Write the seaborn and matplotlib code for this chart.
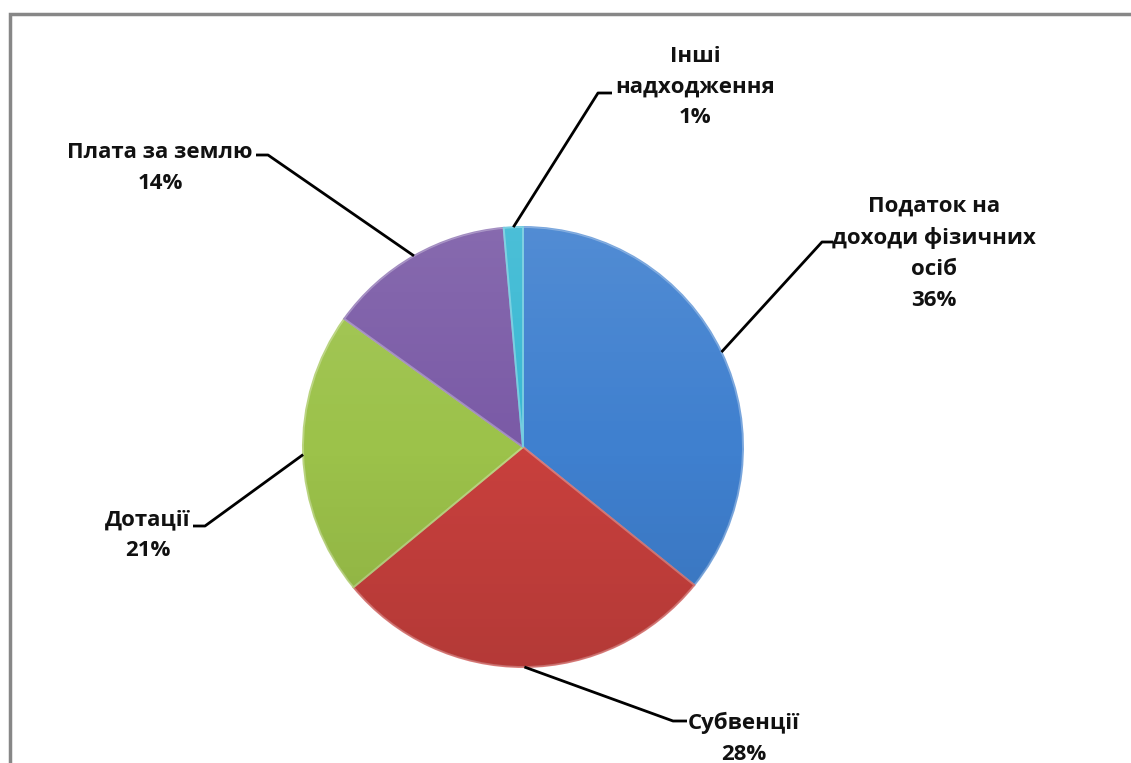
import numpy as np
import matplotlib
matplotlib.use("Agg")
import matplotlib.pyplot as plt
import seaborn as sns
from matplotlib.patches import Rectangle, Circle
from matplotlib.colors import to_rgb

# ---- data ----
categories = ["Податок на\nдоходи фізичних\nосіб", "Субвенції", "Дотації",
              "Плата за землю", "Інші\nнадходження"]
values = [35.8, 28.2, 20.9, 13.7, 1.4]
colors_hex = ["#3F80CF", "#C8403D", "#9CC24A", "#7A5AA6", "#38B8D3"]

# ---- layout (pixel coordinates, y measured from top) ----
W, H = 1131, 763
PIE_C = (523, 447)
PIE_R = 220
label_centers = [(934, 253), (744, 738), (148, 535), (160, 168), (695, 87)]
elbows = [(822, 242), (673, 721), (205, 526), (268, 155), (598, 93)]
ends = [(833, 242), (687, 721), (193, 526), (256, 155), (612, 93)]

sns.set_theme(style="white")
plt.rcParams["font.family"] = ["Open Sans", "DejaVu Sans"]

def Y(y):
    return H - y

fig = plt.figure(figsize=(W / 100, H / 100), dpi=100)
ax = fig.add_axes([0, 0, 1, 1])
palette = sns.color_palette(colors_hex)

cx, cy = PIE_C[0], Y(PIE_C[1])
wedges, _ = ax.pie(values, colors=palette, startangle=90, counterclock=False,
                   center=(cx, cy), radius=PIE_R, frame=True,
                   wedgeprops=dict(linewidth=1.4))
for w, c in zip(wedges, palette):
    rgb = np.array(to_rgb(c))
    w.set_edgecolor(tuple(rgb + (1 - rgb) * 0.3))

# subtle vertical shading over the pie
grad = np.zeros((256, 1, 4))
t = np.linspace(0, 1, 256)
grad[:, 0, :3] = np.where(t[:, None] < 0.5, 1.0, 0.0)
grad[:, 0, 3] = np.abs(t - 0.5) * 0.2
im = ax.imshow(grad, extent=(cx - PIE_R, cx + PIE_R, cy - PIE_R, cy + PIE_R),
               aspect="auto", origin="upper", zorder=3, interpolation="bilinear")
im.set_clip_path(Circle((cx, cy), PIE_R, transform=ax.transData))

# labels with leader lines
for w, cat, val, lc, el, en in zip(wedges, categories, values, label_centers, elbows, ends):
    mid = np.deg2rad((w.theta1 + w.theta2) / 2)
    sx, sy = cx + PIE_R * np.cos(mid), cy + PIE_R * np.sin(mid)
    ax.plot([sx, el[0], en[0]], [sy, Y(el[1]), Y(en[1])], color="black",
            lw=2.0, solid_capstyle="butt", zorder=2)
    ax.text(lc[0], Y(lc[1]), f"{cat}\n{round(val)}%", ha="center", va="center",
            multialignment="center", fontsize=16, fontweight="bold",
            color="#111111", linespacing=1.62, zorder=5)

# chart-area border (runs off the right and bottom edges)
ax.add_patch(Rectangle((9.5, -200), 3000, Y(14) + 200, fill=False,
                       edgecolor="#878787", lw=2.5, zorder=6))

ax.set_xlim(0, W)
ax.set_ylim(0, H)
ax.set_aspect("equal")
ax.axis("off")
fig.savefig("out.png", dpi=100, facecolor="white")
